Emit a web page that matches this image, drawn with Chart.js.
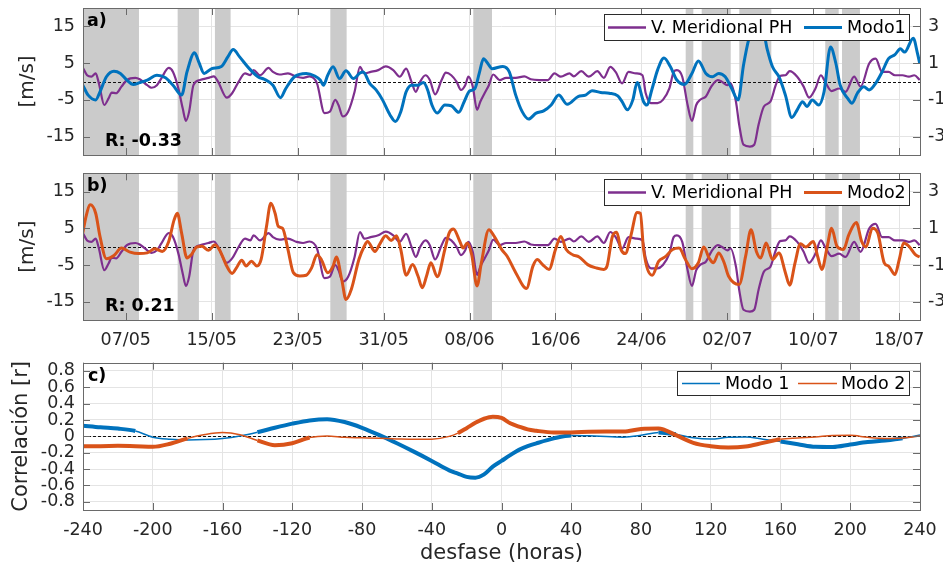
<!DOCTYPE html>
<html>
<head>
<meta charset="utf-8">
<script src="https://cdn.jsdelivr.net/npm/chart.js@4.4.0/dist/chart.umd.min.js"></script>
<style>
  body { margin: 0; background: #fff; overflow: hidden; width: 943px; height: 566px; position: relative; }
  canvas { position: absolute; left: 0; }
</style>
</head>
<body>
<canvas id="chartA" width="960" height="160" style="top:0px"></canvas>
<canvas id="chartB" width="960" height="190" style="top:160px"></canvas>
<canvas id="chartC" width="943" height="216" style="top:350px"></canvas>
<script>
// ---- data (days counted from 07/05) ----
const dateTickDays = [0, 8, 16, 24, 32, 40, 48, 56, 64, 72];
const dateTickLabels = ["07/05", "15/05", "23/05", "31/05", "08/06", "16/06", "24/06", "02/07", "10/07", "18/07"];
const speedTicks = [-15, -5, 5, 15];
const modeTicks = [-3, -1, 1, 3];
const lagTicks = [-240, -200, -160, -120, -80, -40, 0, 40, 80, 120, 160, 200, 240];
const corrTicks = [-0.8, -0.6, -0.4, -0.2, 0, 0.2, 0.4, 0.6, 0.8];
const corrTickLabels = ["-0.8", "-0.6", "-0.4", "-0.2", "0", "0.2", "0.4", "0.6", "0.8"];

// shaded periods (start / end, days)
const gapStart = [-3.98, 4.83, 8.30, 19.04, 32.35, 52.12, 53.61, 57.11, 65.11, 66.67];
const gapEnd   = [1.23, 6.81, 9.76, 20.56, 34.09, 52.83, 56.31, 60.09, 66.36, 68.34];

// V. Meridional PH [m/s]
const phDays = [-4.0,-3.6,-3.2,-2.8,-2.5,-2.0,-1.6,-1.3,-0.9,-0.4, 0.1,0.9,1.3,2.0,2.4,2.9,3.3,4.0,4.4,4.9,
  5.3,5.6,5.9,6.3,6.9,7.7,8.2,8.6,9.4,9.9, 10.5,11.1,11.6,11.9,12.5,13.3,13.7,14.3,15.1,15.9,
  16.5,17.1,17.8,18.5,19.0,19.5,19.8,20.2,20.7,21.3, 21.8,22.2,22.8,23.5,24.2,24.9,25.5,26.1,26.6,27.0,
  27.4,27.9,28.3,28.8,29.4,29.8,30.3,30.8,31.2,31.6, 31.9,32.3,32.7,33.0,33.4,33.8,34.2,34.8,35.4,36.3,
  37.1,37.7,38.5,39.3,39.9,40.5,41.3,41.7,42.4,43.1, 43.9,44.5,45.1,45.6,46.2,46.8,47.5,48.1,48.4,48.9,
  49.5,50.0,50.6,51.0,51.3,51.8,52.3,52.7,53.1,53.5, 54.0,54.5,55.1,55.5,56.0,56.3,56.8,57.1,57.5,58.1,
  58.5,58.9,59.4,60.0,60.5,60.9,61.4,61.8,62.5,63.1, 63.6,64.2,64.7,65.1,65.7,66.4,67.0,67.8,68.4,69.2,
  69.8,70.4,71.0,71.6,72.3,72.9,73.4,73.9];
const phVals = [3.8,1.7,1.3,2.2,-0.5,-6.4,-4.6,-3.0,-3.2,-1.4, 0.4,1.0,0.6,-1.0,-1.7,-1.0,0.8,3.7,2.6,-1.9,
  -7.3,-10.7,-8.2,-1.0,0.4,1.0,1.4,-0.1,-4.4,-3.2, -0.1,2.2,1.7,3.1,1.7,3.7,2.6,1.9,2.2,1.3,
  1.0,1.4,-0.5,-8.6,-8.2,-5.0,-6.4,-9.5,-8.2,-2.8, 4.0,2.2,2.6,3.1,4.1,3.1,1.3,3.5,-0.1,-2.8,
  -0.1,1.7,0.4,-3.5,0.4,2.4,1.7,-0.1,-2.3,-1.0, 1.3,-1.4,-7.7,-5.5,-3.2,-1.0,1.9,0.4,1.0,1.0,
  1.4,0.6,0.4,0.4,2.2,1.3,2.2,1.4,2.8,1.3, 2.8,1.0,4.0,2.6,-0.5,2.6,2.2,1.7,-3.2,-5.9,
  -5.9,-5.0,-1.9,2.6,3.1,1.3,-6.4,-10.7,-6.4,-4.9, -4.1,-1.4,0.4,-0.1,-1.0,-0.5,-5.5,-11.8,-17.2,-17.7,
  -17.2,-11.8,-6.8,-5.5,-1.0,1.5,1.7,2.8,1.3,-1.4, -4.4,-1.9,1.7,-0.1,-2.6,-1.9,-2.8,1.3,-1.4,4.9,
  6.2,2.6,2.6,1.7,1.7,1.3,1.7,0.4];

// Modo1 (right axis)
const m1Days = [-4.0,-3.5,-2.8,-2.4,-1.8,-1.1,-0.5,0.1,0.7,1.3, 2.0,2.9,3.7,4.4,5.2,5.7,6.4,6.8,7.3,8.0,
  8.9,9.5,10.0,10.6,11.5,12.3,12.9,13.7,14.4,14.9, 15.7,16.8,17.6,18.1,18.4,18.8,19.3,19.9,20.5,21.2,
  21.8,22.1,22.7,23.3,23.9,24.6,25.1,25.6,26.1,26.6, 27.2,27.7,28.1,28.5,29.0,29.7,30.3,31.0,31.5,32.0,
  32.5,32.9,33.3,33.7,34.1,35.1,35.7,36.3,36.9,37.5, 38.2,38.9,39.6,40.3,41.1,42.1,42.8,43.4,44.2,45.0,
  45.8,46.2,46.7,47.2,47.6,48.2,48.5,49.0,49.5,50.1, 50.7,51.3,52.0,52.7,53.3,54.0,54.6,55.2,55.8,56.4,
  57.0,57.5,58.0,58.5,59.2,59.7,60.2,60.8,61.4,62.0, 62.5,63.0,63.4,63.9,64.5,65.0,65.6,66.1,66.5,67.2,
  67.6,68.1,68.7,69.2,69.8,70.4,71.0,71.6,72.1,72.5, 73.3,73.7,73.9];
const m1Vals = [-0.20,-0.74,-1.00,-0.56,0.26,0.56,0.44,0.08,-0.16,-0.06, 0.08,0.34,0.20,-0.20,-0.74,0.52,1.56,1.06,0.44,0.70,
  0.82,1.34,1.74,1.34,0.70,0.26,0.12,-0.20,-0.88,-0.38, 0.26,0.44,0.30,0.08,-0.20,0.34,0.80,0.16,0.58,0.16,
  0.46,0.52,-0.10,-0.46,-1.00,-1.82,-2.18,-1.64,-0.56,-0.20, -0.20,-0.06,-0.46,-1.28,-1.72,-1.28,-1.32,-1.68,-1.10,-0.52,
  -0.38,0.44,1.24,0.98,0.70,0.82,0.52,-0.74,-1.64,-2.04, -1.72,-1.60,-1.28,-0.74,-1.24,-0.82,-0.74,-0.50,-0.60,-0.64,
  -0.78,-1.10,-1.54,-1.00,-0.06,-1.10,-1.28,-0.38,0.62,1.28, 0.80,0.08,-0.16,0.44,1.12,0.44,0.26,0.44,0.26,-0.38,
  -1.00,0.88,2.32,3.10,3.10,1.78,0.80,0.26,-0.74,-1.96, -1.54,-1.10,-1.36,-1.00,-1.28,-0.56,1.88,0.98,-0.20,-0.92,
  -1.18,-0.64,-0.28,-0.46,-0.10,0.52,1.24,1.46,1.78,1.60, 2.36,1.52,1.00];

// Modo2 (right axis)
const m2Days = [-4.0,-3.7,-3.3,-2.8,-2.4,-1.8,-1.1,-0.4,0.4,1.2, 2.0,2.7,3.4,4.0,4.5,4.8,5.2,5.7,6.1,6.6,
  7.1,7.7,8.3,8.8,9.4,9.9,10.3,10.8,11.2,11.7, 12.2,12.6,13.1,13.5,13.9,14.2,14.6,15.1,15.6,16.2,
  16.8,17.3,17.8,18.2,18.8,19.3,19.6,20.1,20.5,21.0, 21.7,22.2,22.5,23.2,23.6,24.2,24.7,25.2,25.6,26.1,
  26.7,27.2,27.6,28.0,28.4,29.0,29.7,30.1,30.5,31.1, 31.4,31.8,32.2,32.7,33.1,33.8,34.3,35.0,35.5,36.3,
  37.3,37.9,38.3,38.8,39.4,40.0,40.5,41.0,41.6,42.2, 43.0,43.8,44.5,44.8,45.3,45.7,46.1,46.5,47.0,47.6,
  47.9,48.2,49.0,49.6,50.2,50.9,51.5,52.1,52.7,53.3, 53.8,54.3,54.7,55.2,55.7,56.1,57.1,57.7,58.2,58.7,
  59.1,59.6,60.2,60.8,61.4,61.8,62.3,62.8,63.3,64.0, 64.4,64.8,65.3,65.7,66.2,66.8,67.3,68.0,68.5,68.9,
  69.5,70.0,70.6,71.0,71.6,72.0,72.4,72.9,73.5,73.9];
const m2Vals = [0.74,1.64,2.28,1.82,0.56,-0.66,-0.48,-0.08,-0.30,-0.38, -0.34,-0.12,-0.26,0.28,1.46,1.82,0.74,-0.62,-0.44,-0.02,
  0.02,-0.20,0.10,-0.26,-1.06,-1.46,-1.16,-0.74,-1.06,-0.80, -1.06,-0.70,1.10,2.36,1.82,1.10,1.00,-0.16,-1.42,-1.60,
  -1.56,-1.16,-0.44,-0.70,-1.42,-1.06,-0.56,-1.78,-2.88,-2.32, -0.70,0.02,0.28,-0.26,0.10,0.60,0.34,0.60,-0.16,-1.56,
  -0.98,-1.60,-2.24,-1.60,-0.88,-1.64,-0.16,0.74,0.96,0.28, -0.08,0.20,-0.44,-2.14,-0.88,0.92,0.56,-0.16,-0.52,-1.42,
  -2.28,-1.06,-0.70,-0.98,-1.24,-0.16,0.56,-0.16,-0.44,-0.56, -0.98,-1.16,-1.24,-1.06,0.56,0.78,-0.16,-0.38,0.56,1.86,
  1.82,-0.16,-1.56,-0.80,-0.56,-0.16,-0.08,-0.70,-1.20,-0.88, -0.02,-0.62,-0.88,-0.34,-0.88,-1.60,-2.06,-0.52,0.92,-0.26,
  -0.62,0.20,-0.70,-0.34,-1.42,-2.10,-0.88,0.16,-0.02,0.28, -0.52,-1.24,0.02,1.00,0.02,-0.16,0.64,1.32,0.28,-0.02,
  1.00,0.74,-0.88,-1.06,-1.52,-0.70,0.20,0.02,-0.44,-0.56];

// lagged correlation (hours); sig = 1 where the curve is drawn thick
const lagHours = [-240,-230,-220,-210,-200,-190,-180,-170,-160,-150,-140,-130,-120,-110,-100,-90,-80,-70,-60,-50,-40,-30,
  -25,-20,-15,-10,-5,0,5,10,15,20, 30,40,50,60,70,80,90,100,110,120,130,140,150,160,170,180,190,200,210,220,230,240];
const corrModo1 = [0.13,0.11,0.095,0.065,-0.01,-0.035,-0.045,-0.04,-0.025,0.005,0.05,0.105,0.155,0.195,0.21,0.175,0.105,0.015,-0.085,-0.19,-0.30,-0.415,
  -0.455,-0.495,-0.505,-0.465,-0.37,-0.30,-0.23,-0.165,-0.12,-0.085, -0.025,0.01,0.006,-0.002,-0.01,0.012,0.048,0.025,-0.018,-0.033,-0.012,-0.008,-0.035,-0.064,-0.097,-0.128,-0.13,-0.10,-0.07,-0.052,-0.025,0.017];
const corrModo2 = [-0.12,-0.12,-0.116,-0.12,-0.128,-0.09,-0.025,0.022,0.046,0.02,-0.05,-0.108,-0.085,-0.015,0.004,-0.012,-0.018,-0.024,-0.031,-0.036,-0.034,0.0,
  0.04,0.10,0.165,0.215,0.24,0.225,0.16,0.12,0.085,0.068, 0.048,0.048,0.055,0.058,0.058,0.09,0.095,0.015,-0.079,-0.12,-0.137,-0.125,-0.08,-0.035,-0.02,-0.008,0.01,0.012,-0.012,-0.025,-0.02,0.004];
const sigModo1 = [1,1,1,0,0,0,0,0,0,0,1,1,1,1,1,1,1,1,1,1,1,1, 1,1,1,1,1,1,1,1,1,1, 1,0,0,0,0,0,1,0,0,0,0,0,0,1,1,1,1,1,1,1,0,0];
const sigModo2 = [1,1,1,1,1,1,0,0,0,0,1,1,1,0,0,0,0,0,0,0,0,0, 1,1,1,1,1,1,1,1,1,1, 1,1,1,1,1,1,1,1,1,1,1,1,1,0,0,0,0,0,0,0,0,0];

// ---- styling ----
const PURPLE = "#7E2F8E";
const BLUE = "#0072BD";
const ORANGE = "#D95319";
const GRID = "#e4e4e4";
const BOX = "#6a6a6a";
const TEXT = "#262626";
const BAND = "#cbcbcb";
const FAMILY = "DejaVu Sans";
const tickFont = { family: FAMILY, size: 17.5 };

function setTicks(values) {
  return function (scale) { scale.ticks = values.map(v => ({ value: v })); };
}
function fixWidth(w) {
  return function (scale) { scale.width = w; scale.paddingTop = 0; scale.paddingBottom = 0; };
}
function fixHeight(h) {
  return function (scale) { scale.height = h; scale.paddingLeft = 0; scale.paddingRight = 0; };
}
function pairs(xs, ys) {
  return xs.map((x, i) => ({ x: x, y: ys[i] }));
}

// bands, dashed zero line, box with inward ticks, legend and panel tags
function decor(cfg) {
  return {
    id: "decor",
    beforeDatasetsDraw(chart) {
      const { ctx, chartArea: a, scales: { x, y } } = chart;
      ctx.save();
      if (cfg.bands) {
        ctx.fillStyle = BAND;
        gapStart.forEach((s, i) => {
          const x0 = Math.max(a.left, x.getPixelForValue(s));
          const x1 = Math.min(a.right, x.getPixelForValue(gapEnd[i]));
          ctx.fillRect(x0, a.top, x1 - x0, a.bottom - a.top);
        });
      }
      const yz = Math.round(y.getPixelForValue(0)) + 0.5;
      ctx.strokeStyle = "#111";
      ctx.lineWidth = 1;
      ctx.setLineDash([3, 2]);
      ctx.beginPath();
      ctx.moveTo(a.left, yz);
      ctx.lineTo(a.right, yz);
      ctx.stroke();
      ctx.restore();
    },
    afterDatasetsDraw(chart) {
      const { ctx, chartArea: a, scales: { x, y } } = chart;
      ctx.save();
      ctx.strokeStyle = BOX;
      ctx.lineWidth = 1;
      ctx.beginPath();
      x.ticks.forEach(t => {
        const px = Math.round(x.getPixelForValue(t.value)) + 0.5;
        ctx.moveTo(px, a.bottom); ctx.lineTo(px, a.bottom - 7);
        ctx.moveTo(px, a.top); ctx.lineTo(px, a.top + 7);
      });
      y.ticks.forEach(t => {
        const py = Math.round(y.getPixelForValue(t.value)) + 0.5;
        ctx.moveTo(a.left, py); ctx.lineTo(a.left + 7, py);
        ctx.moveTo(a.right, py); ctx.lineTo(a.right - 7, py);
      });
      ctx.stroke();
      ctx.strokeRect(Math.round(a.left) + 0.5, Math.round(a.top) + 0.5,
        Math.round(a.right - a.left), Math.round(a.bottom - a.top));

      // legend
      const lg = cfg.legend;
      const bx = Math.round(a.right - lg.right - lg.width);
      const by = Math.round(a.top + lg.top);
      ctx.fillStyle = "#fff";
      ctx.fillRect(bx, by, lg.width, lg.height);
      ctx.strokeStyle = "#2b2b2b";
      ctx.strokeRect(bx + 0.5, by + 0.5, lg.width, lg.height);
      const cy = by + lg.height / 2 + 0.5;
      ctx.font = "17.5px '" + FAMILY + "'";
      ctx.textBaseline = "middle";
      ctx.textAlign = "left";
      lg.items.forEach(it => {
        ctx.strokeStyle = it.color;
        ctx.lineWidth = it.width;
        ctx.beginPath();
        ctx.moveTo(bx + it.x1, cy);
        ctx.lineTo(bx + it.x2, cy);
        ctx.stroke();
        ctx.fillStyle = "#000";
        ctx.fillText(it.label, bx + it.tx, cy + 1);
      });

      // panel tags
      ctx.font = "bold 17.5px '" + FAMILY + "'";
      ctx.fillStyle = "#000";
      cfg.tags.forEach(tg => {
        ctx.fillText(tg.text, a.left + tg.dx, tg.fromBottom ? a.bottom - tg.dy : a.top + tg.dy);
      });
      ctx.restore();
    }
  };
}

function timePanel(id, mode) {
  return new Chart(document.getElementById(id), {
    type: "line",
    data: {
      datasets: [
        { data: pairs(phDays, phVals), yAxisID: "y", borderColor: PURPLE, borderWidth: 2.2, order: 1 },
        { data: pairs(mode.days, mode.vals), yAxisID: "y2", borderColor: mode.color, borderWidth: 3, order: 0 }
      ]
    },
    options: {
      responsive: false,
      animation: false,
      events: [],
      layout: { padding: { top: mode.padTop, left: 0, right: 0, bottom: 0 } },
      elements: { point: { radius: 0 }, line: { cubicInterpolationMode: "monotone" } },
      plugins: { legend: { display: false }, tooltip: { enabled: false } },
      scales: {
        x: {
          type: "linear", min: -3.98, max: 73.93,
          afterBuildTicks: setTicks(dateTickDays),
          afterFit: fixHeight(mode.xHeight),
          grid: { color: GRID, drawTicks: false },
          border: { display: false },
          ticks: {
            display: mode.showDates, autoSkip: false, maxRotation: 0, padding: 9.5,
            font: tickFont, color: TEXT,
            callback: (v, i) => dateTickLabels[i]
          }
        },
        y: {
          position: "left", min: -20, max: 20,
          afterBuildTicks: setTicks(speedTicks),
          afterFit: fixWidth(83),
          grid: { color: GRID, drawTicks: false },
          border: { display: false },
          ticks: { autoSkip: false, padding: 8, font: tickFont, color: TEXT, callback: v => String(v) },
          title: { display: true, text: "[m/s]", color: TEXT, font: { family: FAMILY, size: 20 }, padding: { top: 15.5, bottom: 0 } }
        },
        y2: {
          position: "right", min: -4, max: 4,
          afterBuildTicks: setTicks(modeTicks),
          afterFit: fixWidth(40),
          grid: { display: false, drawTicks: false },
          border: { display: false },
          ticks: { autoSkip: false, padding: 8, font: tickFont, color: TEXT, callback: v => String(v) }
        }
      }
    },
    plugins: [decor({
      bands: true,
      legend: {
        right: 11, top: 6, width: 305, height: 26,
        items: [
          { label: "V. Meridional PH", color: PURPLE, width: 2.5, x1: 4, x2: 42, tx: 47 },
          { label: mode.label, color: mode.color, width: 3, x1: 200, x2: 238, tx: 243 }
        ]
      },
      tags: [
        { text: mode.tag, dx: 4, dy: 13 },
        { text: mode.rText, dx: 22, dy: 14, fromBottom: true }
      ]
    })]
  });
}

timePanel("chartA", { days: m1Days, vals: m1Vals, color: BLUE, label: "Modo1", tag: "a)", rText: "R: -0.33",
  padTop: 8, xHeight: 5, showDates: false });
timePanel("chartB", { days: m2Days, vals: m2Vals, color: ORANGE, label: "Modo2", tag: "b)", rText: "R: 0.21",
  padTop: 13.3, xHeight: 30, showDates: true });

new Chart(document.getElementById("chartC"), {
  type: "line",
  data: {
    datasets: [
      {
        data: pairs(lagHours, corrModo1), borderColor: BLUE, borderWidth: 1.5, order: 1,
        segment: { borderWidth: c => (sigModo1[c.p0DataIndex] ? 4 : 1.5) }
      },
      {
        data: pairs(lagHours, corrModo2), borderColor: ORANGE, borderWidth: 1.5, order: 0,
        segment: { borderWidth: c => (sigModo2[c.p0DataIndex] ? 4 : 1.5) }
      }
    ]
  },
  options: {
    responsive: false,
    animation: false,
    events: [],
    layout: { padding: { top: 12.7, left: 0, right: 23, bottom: 0 } },
    elements: { point: { radius: 0 }, line: { cubicInterpolationMode: "monotone" } },
    plugins: { legend: { display: false }, tooltip: { enabled: false } },
    scales: {
      x: {
        type: "linear", min: -240, max: 240,
        afterBuildTicks: setTicks(lagTicks),
        afterFit: fixHeight(56),
        grid: { color: GRID, drawTicks: false },
        border: { display: false },
        ticks: { autoSkip: false, maxRotation: 0, padding: 9.5, font: tickFont, color: TEXT, callback: v => String(v) },
        title: { display: true, text: "desfase (horas)", color: TEXT, font: { family: FAMILY, size: 21 }, padding: { top: 0, bottom: 0 } }
      },
      y: {
        min: -0.9, max: 0.9,
        afterBuildTicks: setTicks(corrTicks),
        afterFit: fixWidth(83),
        grid: { color: GRID, drawTicks: false },
        border: { display: false },
        ticks: { autoSkip: false, padding: 8, font: tickFont, color: TEXT, callback: (v, i) => corrTickLabels[i] },
        title: { display: true, text: "Correlación [r]", color: TEXT, font: { family: FAMILY, size: 21 }, padding: { top: 9.4, bottom: 0 } }
      }
    }
  },
  plugins: [decor({
    bands: false,
    legend: {
      right: 11, top: 8, width: 232, height: 24,
      items: [
        { label: "Modo 1", color: BLUE, width: 1.5, x1: 5, x2: 43, tx: 48 },
        { label: "Modo 2", color: ORANGE, width: 1.5, x1: 121, x2: 160, tx: 164 }
      ]
    },
    tags: [{ text: "c)", dx: 5, dy: 14 }]
  })]
});
</script>
</body>
</html>
